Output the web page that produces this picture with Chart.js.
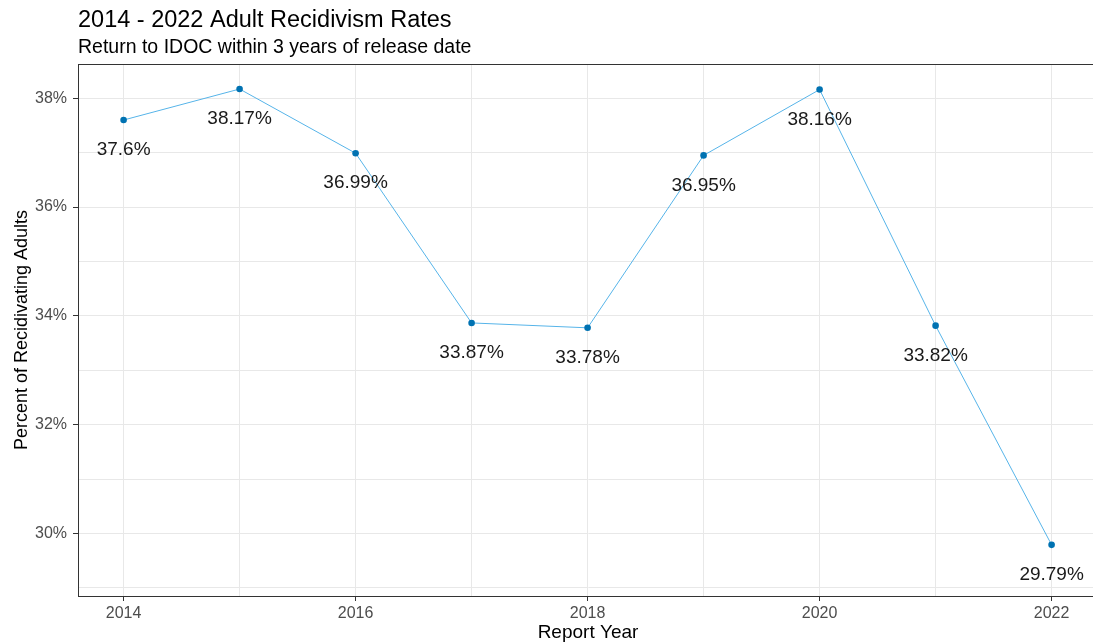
<!DOCTYPE html>
<html>
<head>
<meta charset="utf-8">
<title>2014 - 2022 Adult Recidivism Rates</title>
<script src="https://cdn.jsdelivr.net/npm/chart.js@4.4.1/dist/chart.umd.min.js"></script>
<style>
  html, body { margin: 0; padding: 0; background: #fff; overflow: hidden; }
  #wrap { width: 1102px; height: 642px; }
</style>
</head>
<body>
<div id="wrap"><canvas id="chart" width="1102" height="642"></canvas></div>
<script>
  // Data
  const years = [2014, 2015, 2016, 2017, 2018, 2019, 2020, 2021, 2022];
  const rates = [37.6, 38.17, 36.99, 33.87, 33.78, 36.95, 38.16, 33.82, 29.79];
  const titleText = '2014 - 2022 Adult Recidivism Rates';
  const subtitleText = 'Return to IDOC within 3 years of release date';
  const xTitle = 'Report Year';
  const yTitle = 'Percent of Recidivating Adults';

  const FONT = '"Liberation Sans", Arial, sans-serif';
  const LABEL_NUDGE = 0.55; // labels sit below the point, in y units
  const GRID = '#e8e8e8';
  const AXIS = '#333333';

  const isMajor = (v) => Math.round(v) % 2 === 0;

  // titles drawn aligned with the panel's left edge (ggplot style)
  const headerPlugin = {
    id: 'header',
    afterDraw(chart) {
      const { ctx, chartArea } = chart;
      ctx.save();
      ctx.fillStyle = '#000';
      ctx.textAlign = 'left';
      ctx.textBaseline = 'alphabetic';
      ctx.font = '23.5px ' + FONT;
      ctx.fillText(titleText, chartArea.left, 27);
      ctx.font = '19.5px ' + FONT;
      ctx.fillText(subtitleText, chartArea.left, 53);
      ctx.restore();
    }
  };

  // panel border (top edge; left/bottom come from the axes)
  const borderPlugin = {
    id: 'panelBorder',
    afterDatasetsDraw(chart) {
      const { ctx, chartArea } = chart;
      ctx.save();
      ctx.strokeStyle = AXIS;
      ctx.lineWidth = 1;
      ctx.strokeRect(chartArea.left + 0.5, chartArea.top + 0.5,
        chartArea.right - chartArea.left, chartArea.bottom - chartArea.top);
      ctx.restore();
    }
  };

  // value labels under each point
  const valueLabels = {
    id: 'valueLabels',
    afterDatasetsDraw(chart) {
      const { ctx } = chart;
      const meta = chart.getDatasetMeta(0);
      const yScale = chart.scales.y;
      ctx.save();
      ctx.font = '19px ' + FONT;
      ctx.fillStyle = '#1a1a1a';
      ctx.textAlign = 'center';
      ctx.textBaseline = 'middle';
      meta.data.forEach((pt, i) => {
        const v = rates[i];
        ctx.fillText(v + '%', pt.x, yScale.getPixelForValue(v - LABEL_NUDGE));
      });
      ctx.restore();
    }
  };

  new Chart(document.getElementById('chart'), {
    type: 'line',
    data: {
      datasets: [{
        data: years.map((y, i) => ({ x: y, y: rates[i] })),
        borderColor: '#56B4E9',
        borderWidth: 1,
        pointRadius: 3.3,
        pointBackgroundColor: '#0072B2',
        pointBorderColor: '#0072B2',
        pointBorderWidth: 0,
        tension: 0,
        clip: false
      }]
    },
    options: {
      responsive: false,
      animation: false,
      events: [],
      layout: { padding: { top: 64, left: 0, right: 0, bottom: 0 } },
      plugins: {
        legend: { display: false },
        tooltip: { enabled: false },
        title: { display: false }
      },
      scales: {
        x: {
          type: 'linear',
          min: 2013.607,
          max: 2022.4,
          afterFit: (s) => { s.height = 46; },
          ticks: {
            stepSize: 1,
            includeBounds: false,
            autoSkip: false,
            maxRotation: 0,
            padding: 3,
            color: '#4d4d4d',
            font: { family: FONT, size: 16 },
            callback: (v) => (isMajor(v) ? String(v) : '')
          },
          grid: {
            color: GRID,
            lineWidth: 1,
            tickLength: 5,
            tickColor: (c) => (c.tick && isMajor(c.tick.value) ? AXIS : 'rgba(0,0,0,0)')
          },
          border: { display: true, color: AXIS, width: 1 },
          title: {
            display: true,
            text: xTitle,
            color: '#000',
            font: { family: FONT, size: 19, lineHeight: 1 },
            padding: { top: 0, bottom: 0 }
          }
        },
        y: {
          type: 'linear',
          min: 28.85,
          max: 38.63,
          afterFit: (s) => { s.width = 78; },
          ticks: {
            stepSize: 1,
            includeBounds: false,
            autoSkip: false,
            padding: 6,
            color: '#4d4d4d',
            font: { family: FONT, size: 16 },
            callback: (v) => (isMajor(v) ? v + '%' : '')
          },
          grid: {
            color: GRID,
            lineWidth: 1,
            tickLength: 5,
            tickColor: (c) => (c.tick && isMajor(c.tick.value) ? AXIS : 'rgba(0,0,0,0)')
          },
          border: { display: true, color: AXIS, width: 1 },
          title: {
            display: true,
            text: yTitle,
            color: '#000',
            font: { family: FONT, size: 18, lineHeight: 1 },
            padding: { top: 13, bottom: 0 }
          }
        }
      }
    },
    plugins: [headerPlugin, borderPlugin, valueLabels]
  });
</script>
</body>
</html>
